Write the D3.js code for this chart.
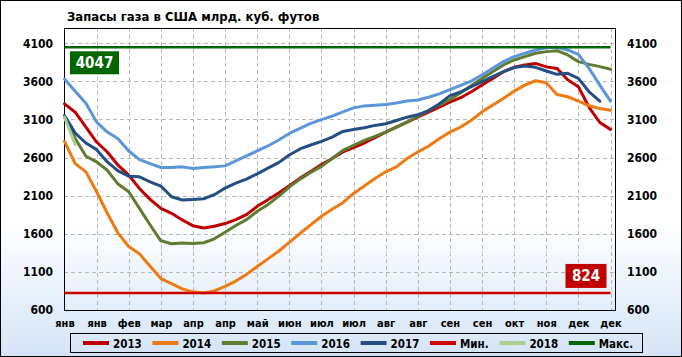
<!DOCTYPE html>
<html><head><meta charset="utf-8">
<script src="https://cdn.jsdelivr.net/npm/d3@7/dist/d3.min.js"></script>
<style>body{margin:0;background:#fff}svg{display:block}</style>
</head><body>
<script>
// ---------- data ----------
const title = "Запасы газа в США млрд. куб. футов";
const tickIdx = [0,3,6,9,12,15,18,21,24,27,30,33,36,39,42,45,48,51];
const tickLabels = ["янв","янв","фев","мар","апр","апр","май","июн","июл","июл","авг","авг","сен","сен","окт","ноя","дек","дек"];
const yTicks = [600,1100,1600,2100,2600,3100,3600,4100];

const s2013 = [3304,3195,3000,2804,2673,2500,2369,2195,2051,1934,1869,1782,1705,1677,1699,1734,1786,1852,1960,2047,2134,2230,2330,2417,2508,2587,2674,2730,2791,2861,2934,3000,3065,3130,3196,3261,3326,3385,3463,3551,3639,3727,3784,3815,3835,3790,3770,3620,3530,3260,3060,2970];
const s2014 = [2813,2521,2412,2151,1869,1608,1434,1338,1173,1012,947,877,838,824,850,911,980,1067,1171,1271,1371,1488,1604,1717,1830,1921,2008,2130,2226,2326,2413,2478,2587,2674,2748,2848,2934,3000,3090,3200,3288,3376,3472,3551,3608,3582,3428,3398,3340,3279,3244,3222];
const s2015 = [3130,2850,2617,2543,2434,2252,2151,1934,1716,1508,1469,1478,1471,1482,1534,1621,1708,1786,1895,1982,2091,2213,2317,2404,2484,2587,2695,2760,2826,2878,2934,3000,3065,3139,3217,3291,3361,3450,3545,3639,3727,3815,3880,3924,3968,3990,4003,3946,3859,3823,3793,3758];
const s2016 = [3630,3470,3313,3065,2935,2848,2686,2573,2520,2470,2470,2478,2458,2469,2478,2491,2556,2621,2687,2752,2830,2917,2983,3048,3098,3143,3200,3252,3278,3287,3296,3317,3343,3356,3391,3435,3491,3547,3604,3683,3771,3859,3924,3968,4012,4040,4047,4012,3955,3771,3551,3340];
const s2017 = [3152,2921,2791,2704,2543,2426,2356,2347,2282,2225,2086,2043,2050,2060,2113,2200,2265,2317,2387,2461,2534,2634,2713,2765,2813,2869,2943,2969,2991,3022,3043,3087,3130,3161,3217,3304,3413,3460,3529,3595,3661,3727,3780,3801,3784,3736,3692,3705,3639,3463,3340];
const s2018 = [3130,2770];
const minVal = 824;
const maxVal = 4047;

const seriesNames = ["2013","2014","2015","2016","2017","Мин.","2018","Макс."];
const seriesColors = ["#c00000","#ee7a12","#5f7d31","#5b96dc","#234f85","#cc0000","#a9d08e","#006600"];

// ---------- chart ----------
const W = 682, H = 357;
const P = {l:64, r:615, t:28, b:310};
const FONT = "'DejaVu Sans Condensed','DejaVu Sans',sans-serif";

const svg = d3.select("body").append("svg").attr("width", W).attr("height", H)
  .style("font-family", FONT);

const defs = svg.append("defs");
const grad = defs.append("linearGradient").attr("id","bg").attr("x1",0).attr("y1",0).attr("x2",0).attr("y2",1);
grad.append("stop").attr("offset","0%").attr("stop-color","#ffffff");
grad.append("stop").attr("offset","62%").attr("stop-color","#ffffff");
grad.append("stop").attr("offset","100%").attr("stop-color","#d4e4f7");

svg.append("rect").attr("x",0.5).attr("y",0.5).attr("width",W-1).attr("height",H-1)
  .attr("fill","url(#bg)").attr("stroke","#000").attr("stroke-width",1);

const x = d3.scaleLinear().domain([0,51]).range([64.5,610.5]);
const y = d3.scaleLinear().domain([600,4300]).range([P.b,P.t]);

// title
svg.append("text").attr("x",67).attr("y",21).attr("font-size",13).attr("font-weight","bold")
  .attr("fill","#000").text(title);

// gridlines
const grid = svg.append("g").attr("stroke","#b8b8b8").attr("stroke-width",1).attr("stroke-dasharray","4,3");
grid.selectAll("line.h").data(yTicks.filter(v=>v>600)).join("line")
  .attr("x1",P.l).attr("x2",P.r).attr("y1",d=>Math.round(y(d))+0.5).attr("y2",d=>Math.round(y(d))+0.5);
grid.selectAll("line.v").data(tickIdx.filter(v=>v>0)).join("line")
  .attr("y1",P.t).attr("y2",P.b).attr("x1",d=>Math.round(x(d))+0.5).attr("x2",d=>Math.round(x(d))+0.5);

// axes
const axL = svg.append("g").attr("transform",`translate(${P.l},0)`)
  .call(d3.axisLeft(y).tickValues(yTicks).tickSize(0).tickPadding(11).tickFormat(d3.format("d")));
const axR = svg.append("g").attr("transform",`translate(${P.r},0)`)
  .call(d3.axisRight(y).tickValues(yTicks).tickSize(0).tickPadding(12).tickFormat(d3.format("d")));
const axB = svg.append("g").attr("transform",`translate(0,${P.b})`)
  .call(d3.axisBottom(x).tickValues(tickIdx).tickSize(0).tickPadding(9).tickFormat((d,i)=>tickLabels[i]));
[axL,axR].forEach(a=>{a.select(".domain").remove();
  a.selectAll("text").attr("font-size",12).attr("font-weight","bold").attr("fill","#000").style("font-family",FONT);});
axB.select(".domain").remove();
axB.selectAll("text").attr("font-size",11).attr("font-weight","bold").attr("fill","#000").style("font-family",FONT);

// plot border
svg.append("rect").attr("x",P.l+0.5).attr("y",P.t+0.5).attr("width",P.r-P.l).attr("height",P.b-P.t)
  .attr("fill","none").attr("stroke","#000").attr("stroke-width",1);

// series
const line = d3.line().x((d,i)=>x(i)).y(d=>y(d));
const allSeries = [s2013, s2014, s2015, s2016, s2017,
  d3.range(52).map(()=>minVal), s2018, d3.range(52).map(()=>maxVal)];
const widths = [3,3,3,3,3,2.5,3,2.5];
const lines = svg.append("g").attr("fill","none").attr("stroke-linejoin","round").attr("stroke-linecap","round");
allSeries.forEach((s,k)=>{
  lines.append("path").datum(s).attr("d",line).attr("stroke",seriesColors[k]).attr("stroke-width",widths[k])
    .attr("stroke-linecap", k===5||k===7 ? "butt" : "round");
});

// value labels
function valueBox(val, bx, by, w, h, fill){
  svg.append("rect").attr("x",bx).attr("y",by).attr("width",w).attr("height",h).attr("fill",fill);
  svg.append("text").attr("x",bx+w/2).attr("y",by+h/2).attr("dy","0.36em").attr("text-anchor","middle")
    .attr("font-size",15).attr("font-weight","bold").attr("fill","#fff").text(val);
}
valueBox(maxVal, x(0)+5.5, y(maxVal)+4, 49, 23, "#006600");
valueBox(minVal, x(51)-45, y(minVal)-29, 41, 24, "#c00000");

// legend
const lg = svg.append("g");
lg.append("rect").attr("x",70.5).attr("y",333.5).attr("width",572).attr("height",19)
  .attr("fill","none").attr("stroke","#000").attr("stroke-width",1);
seriesNames.forEach((n,i)=>{
  const x0 = 83 + i*69.4;
  lg.append("line").attr("x1",x0).attr("x2",x0+26).attr("y1",343).attr("y2",343)
    .attr("stroke",seriesColors[i]).attr("stroke-width",4);
  lg.append("text").attr("x",x0+30).attr("y",347.5).attr("font-size",11.5).attr("font-weight","bold")
    .attr("fill","#000").text(n);
});
</script>
</body></html>
